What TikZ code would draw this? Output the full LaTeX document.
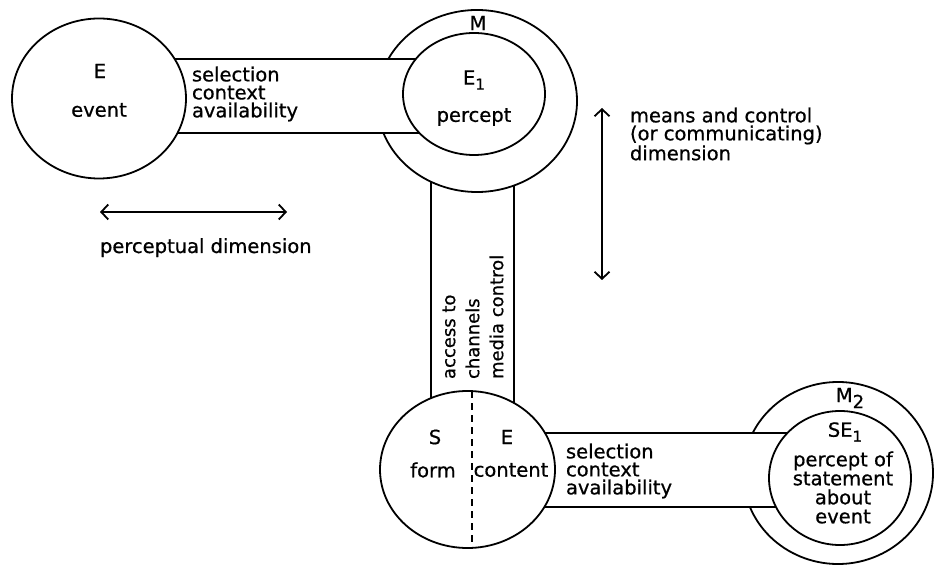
\documentclass[tikz,border=0pt]{standalone}
\usepackage{fontspec}
\setmainfont{DejaVu Sans}[FakeBold=0.7]
\usetikzlibrary{arrows.meta,shapes.geometric,calc}
\begin{document}
\begin{tikzpicture}[x=1pt,y=1pt,
  line width=1.8pt,
  ring/.style={ellipse,draw,inner sep=0pt,outer sep=0pt},
  lbl/.style={inner sep=0pt,outer sep=0pt,font=\fontsize{19.5}{18}\selectfont},
  vlbl/.style={inner sep=0pt,outer sep=0pt,font=\fontsize{18}{24}\selectfont},
  dimarrow/.style={line width=1.8pt,{Straight Barb[length=7pt,width=15pt]}-{Straight Barb[length=7pt,width=15pt]}},
  sep/.style={line width=1.6pt,dash pattern=on 7pt off 5pt}
  ]
\fill[white] (0,0) rectangle (934,565);
\useasboundingbox (0,0) rectangle (934,565);

% closed circles
\node[ring,minimum width=174,minimum height=160] (ev) at (99,466.5) {};
\node[ring,minimum width=142,minimum height=122] (ei) at (474,471) {};
\node[ring,minimum width=175,minimum height=157] (se) at (467.5,95.5) {};
\node[ring,minimum width=142,minimum height=134] (mi) at (840,87) {};

% outer rings (open where a band enters)
\coordinate (mo) at (477,464);
\draw ($(mo)+(200.6:100 and 91)$) arc[start angle=200.6,end angle=512.5,x radius=100,y radius=91];
\coordinate (mto) at (838,92);
\draw ($(mto)+(201.9:95 and 91)$) arc[start angle=201.9,end angle=513.9,x radius=95,y radius=91];

% upper band
\coordinate (ubt0) at (174.7,506);
\coordinate (ubt1) at (415.8,506);
\coordinate (ubb0) at (177.5,432);
\coordinate (ubb1) at (419.4,432);
\draw (ubt0) -- (ubt1);
\draw (ubb0) -- (ubb1);

% vertical band
\coordinate (vl0) at (431,383.2);
\coordinate (vl1) at (431,166.9);
\coordinate (vr0) at (514,379.5);
\coordinate (vr1) at (514,162.0);
\draw (vl0) -- (vl1);
\draw (vr0) -- (vr1);

% lower band
\coordinate (lbt0) at (545,132);
\coordinate (lbt1) at (787.4,132);
\coordinate (lbb0) at (544.4,58);
\coordinate (lbb1) at (776,58);
\draw (lbt0) -- (lbt1);
\draw (lbb0) -- (lbb1);

% dashed divider in S/E circle
\coordinate (dtop) at (472,173.9);
\coordinate (dbot) at (472,17.1);
\draw[sep] (dtop) -- (dbot);

% dimension arrows
\coordinate (ha0) at (100,353);
\coordinate (ha1) at (287,353);
\draw[dimarrow] (ha0) -- (ha1);
\coordinate (va0) at (602,457);
\coordinate (va1) at (602,285);
\draw[dimarrow] (va0) -- (va1);

% texts
\node[lbl] (tE) at (100,494) {E};
\node[lbl] (tev) at (99,455) {event};
\node[lbl,align=left,anchor=west] (tub) at (192,471) {selection\\context\\availability};
\node[lbl] (tM) at (478,542) {M};
\node[lbl] (tE1) at (474,485) {E\raisebox{-5pt}{\fontsize{15}{15}\selectfont 1}};
\node[lbl] (tper) at (474,448) {percept};
\node[lbl,align=left,anchor=west] (tmc) at (630,431) {means and control\\(or communicating)\\dimension};
\node[lbl,anchor=base west] (tpd) at (100,312) {perceptual dimension};
\node[vlbl,rotate=90,align=left,anchor=west] (tvb) at (473,186) {access to\\channels\\media control};
\node[lbl] (tS) at (435,128) {S};
\node[lbl] (tE2) at (507,128) {E};
\node[lbl] (tform) at (433,95) {form};
\node[lbl] (tcont) at (511,95) {content};
\node[lbl,align=left,anchor=west] (tlb) at (566,94) {selection\\context\\availability};
\node[lbl] (tM2) at (850,167) {M\raisebox{-6pt}{\fontsize{18}{18}\selectfont 2}};
\node[lbl] (tSE) at (845,133) {SE\raisebox{-5pt}{\fontsize{15}{15}\selectfont 1}};
\node[lbl,align=center,font=\fontsize{19.5}{19}\selectfont] (tpoe) at (843,77.5) {percept of\\statement\\about\\event};
\end{tikzpicture}
\end{document}
